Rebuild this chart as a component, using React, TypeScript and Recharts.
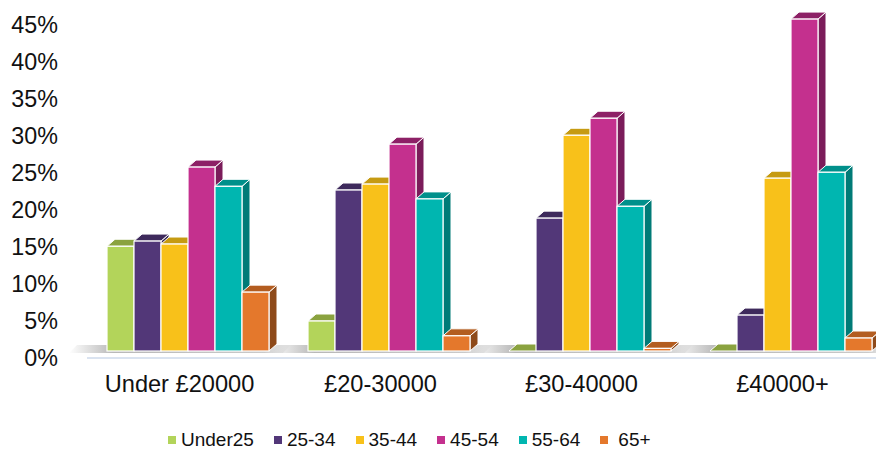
import React from 'react';
import { BarChart, Bar, XAxis, YAxis, Legend } from 'recharts';

// income bands along the x axis
const categories = ['Under £20000', '£20-30000', '£30-40000', '£40000+'];

// share of each age group per income band (%)
const under25 = [15.1, 5.0, 0, 0];
const age25to34 = [15.8, 22.7, 18.9, 5.8];
const age35to44 = [15.4, 23.5, 30.1, 24.3];
const age45to54 = [25.8, 28.9, 32.4, 45.8];
const age55to64 = [23.2, 21.5, 20.5, 25.1];
const age65plus = [8.9, 3.0, 1.3, 2.7];

const yTicks = [0, 5, 10, 15, 20, 25, 30, 35, 40, 45];

const SERIES = [
  { key: 'under25', name: 'Under25', values: under25, front: '#b3d45a', top: '#8aa23f', side: '#7a9136' },
  { key: 'a2534', name: '25-34', values: age25to34, front: '#523778', top: '#3e2a5c', side: '#35234f' },
  { key: 'a3544', name: '35-44', values: age35to44, front: '#f8c11a', top: '#c69b12', side: '#a8830f' },
  { key: 'a4554', name: '45-54', values: age45to54, front: '#c4308e', top: '#8d2066', side: '#7b1c5a' },
  { key: 'a5564', name: '55-64', values: age55to64, front: '#00b6b0', top: '#00908b', side: '#007b77' },
  { key: 'a65', name: '65+', values: age65plus, front: '#e4782c', top: '#b35d20', side: '#8e4a1a' },
];

const data = categories.map((category, i) => {
  const row: Record<string, string | number> = { category };
  SERIES.forEach((s) => {
    row[s.key] = s.values[i];
  });
  return row;
});

const DX = 8;
const DY = 7;
const SINK = 7;

function Bar3D(props: any) {
  const { x, y, width, height, front, top, side, withShadow } = props;
  if (x == null || width == null) return null;
  const base = y + height - SINK;
  const yt = Math.min(y, base);
  const w = width;
  return (
    <g>
      {withShadow && (
        <polygon
          points={`${x - 38},${base + 2} ${x - 30},${base - 6} ${x + 6 * w + 22},${base - 6} ${x + 6 * w + 14},${base + 2}`}
          fill="url(#floorShadow)"
        />
      )}
      <polygon
        points={`${x + w},${yt} ${x + w + DX},${yt - DY} ${x + w + DX},${base - DY} ${x + w},${base}`}
        fill={side}
        stroke="#fff"
        strokeWidth={1}
      />
      <polygon
        points={`${x},${yt} ${x + DX},${yt - DY} ${x + w + DX},${yt - DY} ${x + w},${yt}`}
        fill={top}
        stroke="#fff"
        strokeWidth={1}
      />
      {base - yt > 0.5 && (
        <rect x={x} y={yt} width={w} height={base - yt} fill={front} stroke="#fff" strokeWidth={1.2} />
      )}
    </g>
  );
}

const renderLegend = (props: any) => {
  const order = SERIES.map((s) => s.name);
  const payload = [...(props.payload || [])].sort(
    (a: any, b: any) => order.indexOf(a.value) - order.indexOf(b.value)
  );
  return (
    <div style={{ display: 'flex', alignItems: 'center', paddingLeft: 168 }}>
      {payload.map((item: any) => (
        <div key={item.value} style={{ display: 'flex', alignItems: 'center', marginRight: 20 }}>
          <div style={{ width: 8, height: 8, background: item.color, marginRight: item.value === '65+' ? 10 : 5 }} />
          <span style={{ fontSize: 19, color: '#111', lineHeight: '22px' }}>{item.value}</span>
        </div>
      ))}
    </div>
  );
};

export default function App() {
  return (
    <div
      style={{
        position: 'absolute',
        left: 0,
        top: 0,
        width: 876,
        height: 450,
        overflow: 'hidden',
        background: '#fff',
        fontFamily: '"Liberation Sans", Arial, sans-serif',
      }}
    >
      <BarChart
        width={900}
        height={450}
        data={data}
        margin={{ top: 17.6, right: 9, left: 0, bottom: 0 }}
        barCategoryGap={20}
        barGap={0}
      >
        <defs>
          <linearGradient id="floorShadow" x1="0" y1="0" x2="1" y2="0">
            <stop offset="0%" stopColor="#a6a6a6" stopOpacity={0} />
            <stop offset="20%" stopColor="#a6a6a6" stopOpacity={0.8} />
            <stop offset="88%" stopColor="#a6a6a6" stopOpacity={0.6} />
            <stop offset="100%" stopColor="#a6a6a6" stopOpacity={0} />
          </linearGradient>
        </defs>
        <XAxis
          dataKey="category"
          height={92}
          tickLine={false}
          tickMargin={11}
          axisLine={{ stroke: '#dae3f0', strokeWidth: 2 }}
          tick={{ fontSize: 23.6, fill: '#111', dx: -8 }}
        />
        <YAxis
          width={87}
          domain={[0, 46]}
          ticks={yTicks}
          axisLine={false}
          tickLine={false}
          tickSize={0}
          tickMargin={29}
          tickFormatter={(v) => `${v}%`}
          tick={{ fontSize: 23.3, fill: '#111' }}
        />
        <Legend
          layout="horizontal"
          verticalAlign="middle"
          align="center"
          wrapperStyle={{ top: 429, left: 0, width: 876 }}
          content={renderLegend}
        />
        {SERIES.map((s, idx) => (
          <Bar
            key={s.key}
            dataKey={s.key}
            name={s.name}
            fill={s.front}
            isAnimationActive={false}
            shape={(p: any) => (
              <Bar3D {...p} front={s.front} top={s.top} side={s.side} withShadow={idx === 0} />
            )}
          />
        ))}
      </BarChart>
    </div>
  );
}
